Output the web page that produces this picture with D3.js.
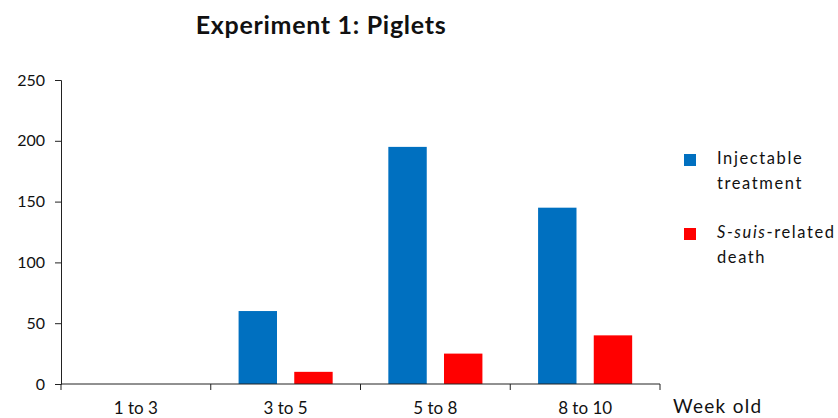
<!DOCTYPE html>
<html>
<head>
<meta charset="utf-8">
<script src="https://cdn.jsdelivr.net/npm/d3@7"></script>
<style>
  body { margin: 0; background: #fff; }
  svg { display: block; font-family: Lato, "Open Sans", sans-serif; }
</style>
</head>
<body>
<svg id="chart" width="838" height="418"></svg>
<script>
// Piglet experiment: weekly counts of injectable treatments and S. suis deaths
const categories = ["1 to 3", "3 to 5", "5 to 8", "8 to 10"];
const injectable = [0, 60, 195, 145];
const ssuisDeath = [0, 10, 25, 40];
const yTicks = [0, 50, 100, 150, 200, 250];

const svg = d3.select("#chart");
const margin = { left: 61, right: 178, top: 80, bottom: 34 };
const W = 838, H = 418;

const x = d3.scaleBand().domain(categories).range([margin.left, W - margin.right]);
const inner = d3.scaleBand().domain(["inj", "death"]).range([0, x.bandwidth()])
  .paddingInner(0.31).paddingOuter(0.5);
const y = d3.scaleLinear().domain([0, 250]).range([H - margin.bottom, margin.top]);

const colors = { inj: "#0070C0", death: "#FF0000" };

// Title
svg.append("text")
  .attr("x", 321).attr("y", 34)
  .attr("text-anchor", "middle")
  .attr("font-size", 25).attr("font-weight", "bold")
  .attr("letter-spacing", 0.7)
  .attr("fill", "#111")
  .text("Experiment 1: Piglets");

// Bars
const rows = categories.map((c, i) => ({ c, inj: injectable[i], death: ssuisDeath[i] }));
["inj", "death"].forEach(k => {
  svg.append("g").selectAll("rect").data(rows).join("rect")
    .attr("x", d => x(d.c) + inner(k))
    .attr("width", inner.bandwidth())
    .attr("y", d => y(d[k]))
    .attr("height", d => y(0) - y(d[k]))
    .attr("fill", colors[k]);
});

// Y axis
const yAxis = svg.append("g")
  .attr("transform", `translate(${margin.left},0)`)
  .call(d3.axisLeft(y).tickValues(yTicks).tickSize(6).tickPadding(10));
yAxis.selectAll("text").attr("font-size", 16).attr("fill", "#111")
  .style("font-family", "Lato, 'Open Sans', sans-serif");
yAxis.selectAll("line, path").attr("stroke", "#222");

// X axis with boundary ticks between categories
const xg = svg.append("g").attr("transform", `translate(0,${y(0)})`);
xg.append("line")
  .attr("x1", margin.left).attr("x2", W - margin.right)
  .attr("stroke", "#222");
const bounds = categories.map(c => x(c)).concat([x(categories[categories.length - 1]) + x.bandwidth()]);
xg.selectAll("line.tick").data(bounds).join("line")
  .attr("class", "tick")
  .attr("x1", d => d).attr("x2", d => d)
  .attr("y1", 0).attr("y2", 6)
  .attr("stroke", "#222");
xg.selectAll("text").data(categories).join("text")
  .attr("x", d => x(d) + x.bandwidth() / 2)
  .attr("y", 30)
  .attr("text-anchor", "middle")
  .attr("font-size", 17).attr("fill", "#111")
  .text(d => d);

svg.append("text")
  .attr("x", 673).attr("y", 413)
  .attr("font-size", 19).attr("fill", "#111")
  .attr("letter-spacing", 1.3)
  .text("Week old");

// Legend
const legend = svg.append("g");
const items = [
  { key: "inj", y: 154, lines: [[{ t: "Injectable" }], [{ t: "treatment" }]] },
  { key: "death", y: 228, lines: [[{ t: "S-suis", i: true }, { t: "-related" }], [{ t: "death" }]] }
];
items.forEach(it => {
  legend.append("rect")
    .attr("x", 684).attr("y", it.y).attr("width", 12).attr("height", 12)
    .attr("fill", colors[it.key]);
  it.lines.forEach((ln, j) => {
    const t = legend.append("text")
      .attr("x", 717).attr("y", it.y + 10 + j * 25)
      .attr("font-size", 16.5).attr("fill", "#111")
      .attr("letter-spacing", 1.6);
    ln.forEach(seg => {
      t.append("tspan").attr("font-style", seg.i ? "italic" : "normal").text(seg.t);
    });
  });
});
</script>
</body>
</html>
